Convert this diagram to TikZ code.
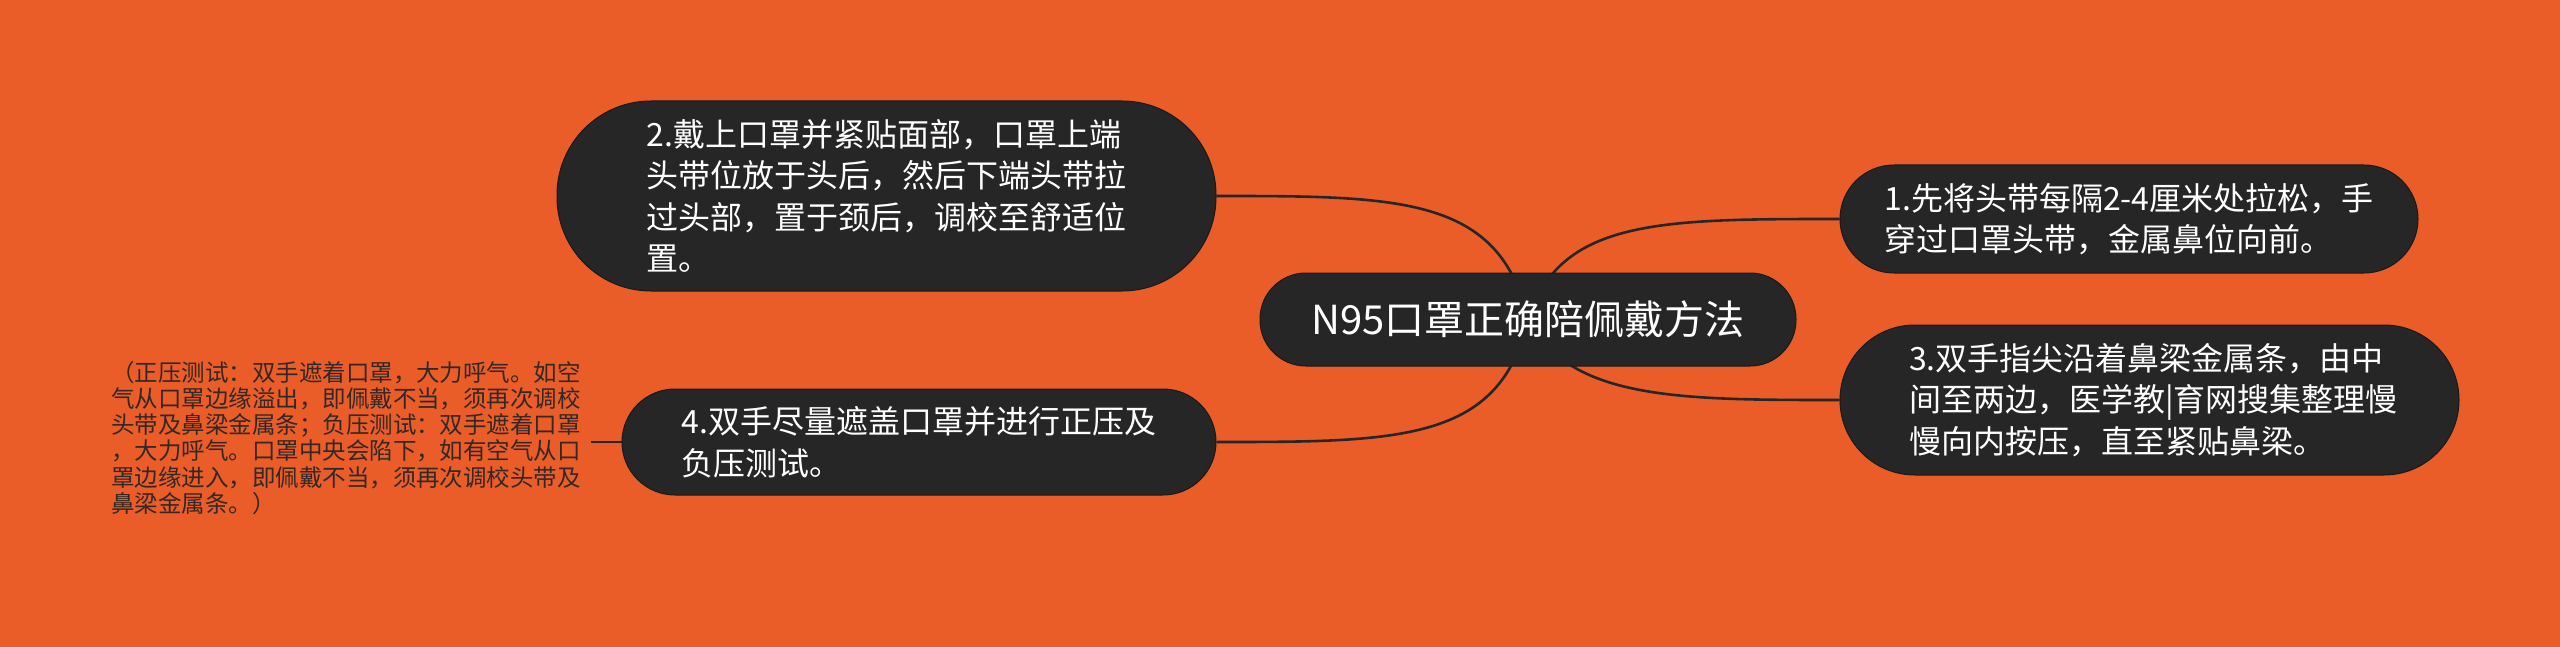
\documentclass[tikz,border=0pt]{standalone}
\usepackage{fontspec}
\setmainfont{Noto Sans CJK SC}
\definecolor{bgc}{RGB}{234,93,41}
\definecolor{nodec}{RGB}{38,38,38}
\definecolor{leafc}{RGB}{51,40,35}
\pgfdeclarelayer{edges}
\pgfsetlayers{edges,main}
\begin{document}
\begin{tikzpicture}[x=0.5pt,y=-0.5pt,
  box/.style={fill=nodec, draw=black!90, line width=0.5pt, text=white, align=left, inner sep=0pt},
  sub/.style={box, font=\fontsize{16}{20.8}\selectfont},
  leaf/.style={text=leafc, align=left, inner xsep=5pt, inner ysep=0pt, font=\fontsize{11.75}{13.05}\selectfont},
  edge/.style={draw=nodec, line width=1.3pt}]
\begin{pgfonlayer}{edges}
\fill[bgc] (0,0) rectangle (2560,647);
\end{pgfonlayer}
\useasboundingbox (0,0) rectangle (2560,647);

\node[box, minimum width=268pt, minimum height=46.5pt, rounded corners=23pt, font=\fontsize{20}{24}\selectfont] (c) at (1528,319.5) {N95口罩正确陪佩戴方法};

\node[sub, minimum width=329.5pt, minimum height=95pt, rounded corners=47pt] (n2) at (886.5,196) {2.戴上口罩并紧贴面部，口罩上端\\头带位放于头后，然后下端头带拉\\过头部，置于颈后，调校至舒适位\\置。};

\node[sub, minimum width=289pt, minimum height=54pt, rounded corners=27pt] (n1) at (2129,219) {1.先将头带每隔2-4厘米处拉松，手\\穿过口罩头带，金属鼻位向前。};

\node[sub, minimum width=309.5pt, minimum height=75pt, rounded corners=37.5pt] (n3) at (2149.5,400) {\hspace*{4pt}3.双手指尖沿着鼻梁金属条，由中\\\hspace*{4pt}间至两边，医学教|育网搜集整理慢\\\hspace*{4pt}慢向内按压，直至紧贴鼻梁。};

\node[sub, minimum width=297pt, minimum height=53pt, rounded corners=26.5pt] (n4) at (919,442) {4.双手尽量遮盖口罩并进行正压及\\负压测试。};

\node[leaf] (l4) at (346,438) {（正压测试：双手遮着口罩，大力呼气。如空\\气从口罩边缘溢出，即佩戴不当，须再次调校\\头带及鼻梁金属条；负压测试：双手遮着口罩\\，大力呼气。口罩中央会陷下，如有空气从口\\罩边缘进入，即佩戴不当，须再次调校头带及\\鼻梁金属条。）};

\begin{pgfonlayer}{edges}
\draw[edge] (c.center) .. controls (1500,196) and (1400,196) .. (n2.east);
\draw[edge] (c.center) .. controls (1560,219) and (1660,219) .. (n1.west);
\draw[edge] (c.center) .. controls (1570,400) and (1680,400) .. (n3.west);
\draw[edge] (c.center) .. controls (1500,442) and (1400,442) .. (n4.east);
\draw[edge] (n4.west) -- (n4.west -| l4.east);
\end{pgfonlayer}
\end{tikzpicture}
\end{document}
